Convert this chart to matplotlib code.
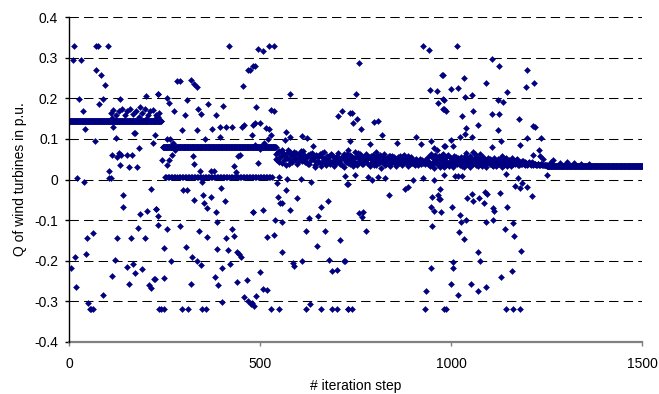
import numpy as np
import matplotlib
matplotlib.use("Agg")
import matplotlib.pyplot as plt

plt.rcParams['font.family'] = ['Liberation Sans', 'DejaVu Sans']

# ---------------- data ----------------
# near-constant stretches of iterations: (first, last, step, Q)
line_a = (0, 240, 1, 0.145)
line_b = (245, 540, 1, 0.081)
line_c = (250, 530, 4, 0.005)
line_d = (1250, 1500, 1, 0.0345)

# dense cloud, iterations 540, 544, ..., 1248 (Q in 1/1000 p.u.)
cloud_start = 540
cloud_step = 4
cloud_q = [
    62, 48, 70, 55, 41, 66, 58, 35, 72, 50, 61, 44, 68, 53, 39, 64, 57, 46, 71, 52,
    43, 60, 37, 55, 66, 48, 31, 58, 45, 63, 40, 52, 69, 36, 49, 57, 42, 61, 34, 54,
    47, 65, 39, 51, 58, 30, 44, 62, 49, 37, 56, 43, 67, 35, 52, 46, 59, 38, 50, 63,
    41, 55, 33, 48, 60, 44, 36, 57, 50, 29, 45, 62, 39, 53, 47, 34, 58, 42, 51, 37,
    56, 43, 49, 35, 61, 46, 40, 53, 38, 47, 44, 36, 50, 41, 45, 39, 48, 42, 37, 46,
    55, 33, 62, 44, 28, 51, 40, 58, 35, 47, 30, 54, 42, 60, 37, 49, 32, 45, 56, 39,
    43, 51, 34, 47, 57, 38, 45, 31, 53, 41, 48, 36, 55, 40, 46, 33, 50, 42, 37, 52,
    39, 47, 34, 54, 42, 36, 49, 44, 31, 46, 40, 52, 37, 45, 33, 48, 41, 38, 50, 35,
    43, 39, 46, 36, 41, 38, 44, 35, 40, 37, 39, 36, 38, 35, 37, 36, 35, 36,
]
# second interleaved part of the cloud, iterations 542, 546, ..., 1250
cloud2_start = 542
cloud2_q = [
    51, 67, 44, 59, 73, 47, 63, 54, 38, 69, 45, 58, 50, 65, 42, 55, 70, 48, 60, 43,
    56, 39, 64, 47, 52, 35, 61, 44, 57, 33, 66, 49, 41, 59, 53, 38, 62, 46, 55, 40,
    58, 42, 53, 36, 63, 48, 55, 41, 60, 46, 33, 52, 40, 57, 44, 62, 37, 55, 45, 51,
    52, 38, 59, 45, 35, 53, 49, 40, 61, 43, 56, 35, 50, 44, 59, 40, 48, 55, 33, 47,
    40, 52, 37, 57, 44, 50, 34, 47, 55, 41, 38, 49, 43, 36, 51, 44, 40, 47, 43, 39,
    42, 58, 36, 50, 61, 38, 54, 31, 48, 63, 41, 36, 57, 33, 52, 44, 59, 38, 47, 53,
    36, 55, 44, 30, 49, 53, 35, 58, 42, 37, 54, 46, 33, 50, 39, 56, 43, 31, 48, 44,
    50, 35, 45, 40, 33, 51, 38, 42, 55, 36, 48, 34, 47, 41, 52, 37, 44, 49, 36, 43,
    37, 45, 38, 42, 35, 40, 37, 43, 36, 39, 35, 38, 36, 37, 35, 36, 35, 35,
]

# scattered points: iteration, Q
scatter_it = [
    12, 70, 74, 100, 9, 30, 70, 83, 94, 25, 89, 79, 133, 35, 41, 66, 115, 169, 122, 224,
    220, 111, 126, 130, 136, 133, 150, 163, 157, 176, 182, 172, 185, 201, 231, 104, 105, 108, 21, 38,
    140, 141, 213, 185, 203, 227, 179, 231, 63, 47, 44, 15, 4, 124, 161, 197, 120, 150, 166, 191,
    172, 112, 155, 209, 214, 222, 18, 87, 50, 54, 58, 63, 236,
    108, 115, 122, 130, 138, 145, 152, 160, 168, 175, 183, 190, 198, 205, 212, 220, 228, 235, 112, 200,
    225, 233,
    418, 468, 482, 281, 291, 318, 327, 333, 455, 231, 255, 262, 274, 308, 304, 336, 344, 362, 384, 403,
    294, 333, 374, 394, 410, 425, 451, 458, 394, 477, 255, 264, 272, 355, 242, 255, 262, 270, 277, 325,
    326, 342, 370, 380, 436, 442, 447, 431, 347, 297, 309, 396, 327, 349, 353, 361, 370, 383, 408, 480,
    227, 233, 257, 290, 387, 340, 360, 427, 430, 409, 249, 305, 387, 416, 438, 444, 450, 266, 320, 335,
    344, 421, 399, 224, 248, 318, 381, 388, 438, 466, 399, 458, 467, 475, 483, 239, 249, 296, 310, 348,
    357,
    495, 506, 524, 536, 473, 486, 579, 489, 528, 536, 704, 713, 735, 482, 486, 499, 515, 524, 528, 567,
    578, 565, 610, 623, 639, 494, 549, 569, 606, 634, 728, 545, 547, 551, 556, 566, 578, 595, 678, 659,
    482, 508, 539, 558, 628, 650, 518, 537, 619, 670, 709, 648, 558, 586, 589, 608, 679, 687, 700, 719,
    499, 508, 518, 489, 477, 528, 550, 619, 630, 658, 689, 702, 729, 487, 500, 510, 520,
    927, 942, 758, 750, 944, 962, 966, 976, 979, 981, 739, 743, 754, 764, 798, 809, 819, 735, 788, 858,
    908, 921, 946, 956, 755, 803, 774, 730, 839, 865, 887, 963, 975, 981, 722, 729, 748, 783, 793, 809,
    826, 879, 886, 899, 927, 956, 838, 949, 964, 969, 947, 956, 950, 759, 770, 767, 778, 722, 947, 933,
    729, 739, 931, 982,
    1016, 1107, 1126, 1199, 977, 999, 1017, 1033, 1090, 1145, 1196, 1216, 982, 1036, 1053, 1123, 1136, 979, 986, 1029,
    1056, 1106, 1125, 1178, 1071, 1038, 1036, 1023, 1123, 1129, 1213, 1219, 998, 1005, 1053, 983, 1106, 1180, 1197, 1038,
    1058, 1062, 1075, 1132, 1213, 1010, 1018, 1027, 981, 1143, 1175, 970, 1167, 1184, 1180, 1199, 1210, 970, 972, 1040,
    1053, 1056, 1073, 1086, 1088, 1093, 1127, 1001, 1110, 1112, 1145, 1023, 1025, 1038, 1091, 1108, 1162, 1141, 1164, 1021,
    1034, 1069, 1182, 1075, 1004, 1004, 1158, 999, 1052, 1129, 1071, 1091, 1018, 986, 1142, 1161, 1180,
    1234, 1230, 1232, 1267, 1302, 1251, 1240, 1260, 1285, 1320, 1340, 1360,
]
scatter_q = [
    0.33, 0.33, 0.33, 0.33, 0.294, 0.294, 0.27, 0.257, 0.234, 0.198, 0.198, 0.187, 0.198, 0.169, 0.125, 0.096, 0.13, 0.114, 0.102, 0.11,
    0.09, 0.061, 0.055, 0.065, 0.06, 0.035, 0.06, 0.06, 0.03, 0.03, 0.077, 0.114, 0.18, 0.205, 0.21, 0.02, 0.003, 0.003, 0.003, -0.007,
    -0.038, -0.067, -0.024, -0.085, -0.077, -0.073, -0.12, -0.113, -0.131, -0.145, -0.183, -0.19, -0.219, -0.145, -0.145, -0.145, -0.198, -0.215, -0.208, -0.22,
    -0.231, -0.237, -0.257, -0.26, -0.267, -0.246, -0.264, -0.286, -0.305, -0.32, -0.32, -0.32, -0.32,
    0.165, 0.172, 0.16, 0.17, 0.175, 0.158, 0.168, 0.173, 0.162, 0.17, 0.155, 0.165, 0.175, 0.16, 0.168, 0.172, 0.158, 0.165, 0.152, 0.15,
    0.15, 0.155,
    0.33, 0.269, 0.28, 0.243, 0.243, 0.246, 0.236, 0.229, 0.231, 0.21, 0.202, 0.188, 0.17, 0.195, 0.159, 0.175, 0.162, 0.187, 0.16, 0.182,
    0.121, 0.122, 0.125, 0.13, 0.13, 0.13, 0.13, 0.135, 0.106, 0.11, 0.1, 0.1, 0.09, 0.1, 0.048, 0.036, 0.048, 0.06, 0.073, 0.057,
    0.039, 0.021, 0.02, 0.02, 0.018, 0.057, 0.061, 0.034, -0.007, -0.025, -0.025, -0.021, -0.05, -0.038, -0.057, -0.071, -0.044, -0.081, -0.054, -0.079,
    -0.073, -0.091, -0.122, -0.114, -0.106, -0.128, -0.142, -0.123, -0.139, -0.145, -0.169, -0.167, -0.171, -0.174, -0.18, -0.184, -0.19, -0.202, -0.19, -0.202,
    -0.21, -0.208, -0.219, -0.246, -0.242, -0.257, -0.241, -0.26, -0.254, -0.248, -0.302, -0.29, -0.299, -0.307, -0.312, -0.32, -0.32, -0.32, -0.32, -0.32,
    -0.32,
    0.322, 0.316, 0.33, 0.33, 0.27, 0.28, 0.21, 0.178, 0.172, 0.17, 0.157, 0.168, 0.164, 0.135, 0.14, 0.139, 0.127, 0.125, 0.11, 0.118,
    0.104, 0.098, 0.108, 0.102, 0.083, 0.04, 0.007, 0.002, 0.001, -0.007, -0.012, -0.009, -0.042, -0.057, -0.058, -0.025, -0.075, -0.046, -0.052, -0.069,
    -0.079, -0.075, -0.101, -0.106, -0.095, -0.091, -0.142, -0.137, -0.128, -0.126, -0.149, -0.165, -0.18, -0.205, -0.213, -0.202, -0.198, -0.225, -0.223, -0.202,
    -0.229, -0.27, -0.272, -0.287, -0.305, -0.32, -0.32, -0.32, -0.307, -0.32, -0.32, -0.32, -0.32, 0.085, 0.075, 0.09, 0.1,
    0.33, 0.32, 0.287, 0.21, 0.221, 0.219, 0.188, 0.258, 0.198, 0.173, 0.165, 0.139, 0.149, 0.125, 0.143, 0.145, 0.11, 0.096, 0.087, 0.09,
    0.104, 0.087, 0.094, 0.077, 0.065, 0.067, 0.057, 0.072, 0.057, 0.057, 0.057, 0.073, 0.061, 0.082, 0.009, -0.011, 0.01, 0.006, -0.001, 0.007,
    0.004, -0.024, -0.019, -0.002, 0.004, -0.002, -0.039, -0.042, -0.038, -0.049, -0.069, -0.077, -0.114, -0.083, -0.079, -0.093, -0.128, -0.202, -0.219, -0.275,
    -0.32, -0.32, -0.32, -0.32,
    0.33, 0.297, 0.28, 0.27, 0.258, 0.224, 0.225, 0.25, 0.238, 0.217, 0.228, 0.238, 0.197, 0.203, 0.209, 0.197, 0.192, 0.174, 0.17, 0.157,
    0.17, 0.162, 0.162, 0.149, 0.135, 0.127, 0.113, 0.104, 0.121, 0.096, 0.131, 0.129, 0.098, 0.083, 0.104, 0.083, 0.08, 0.086, 0.102, 0.066,
    0.069, 0.063, 0.063, 0.059, 0.061, 0.009, 0.009, 0.009, 0.011, 0.013, 0.003, -0.024, -0.015, -0.009, -0.021, -0.019, -0.04, -0.049, -0.079, -0.046,
    -0.035, -0.053, -0.046, -0.057, -0.03, -0.035, -0.034, -0.067, -0.071, -0.077, -0.067, -0.087, -0.106, -0.1, -0.104, -0.1, -0.108, -0.123, -0.139, -0.13,
    -0.146, -0.178, -0.176, -0.202, -0.204, -0.219, -0.225, -0.257, -0.258, -0.241, -0.274, -0.266, -0.286, -0.32, -0.32, -0.32, -0.32,
    0.102, 0.073, 0.057, 0.047, 0.044, 0.01, 0.05, 0.042, 0.041, 0.04, 0.039, 0.038,
]

y_ticks = [0.4, 0.3, 0.2, 0.1, 0.0, -0.1, -0.2, -0.3, -0.4]
y_tick_labels = ["0.4", "0.3", "0.2", "0.1", "0", "-0.1", "-0.2", "-0.3", "-0.4"]
x_ticks = [0, 500, 1000, 1500]
x_tick_labels = ["0", "500", "1000", "1500"]

# ---------------- assemble points ----------------
xs, ys = [], []
for first, last, step, q in (line_a, line_b, line_c, line_d):
    it = np.arange(first, last + 1, step)
    xs.append(it)
    ys.append(np.full(len(it), q))
for start, vals in ((cloud_start, cloud_q), (cloud2_start, cloud2_q)):
    xs.append(start + cloud_step * np.arange(len(vals)))
    ys.append(np.array(vals) / 1000.0)
xs.append(np.array(scatter_it))
ys.append(np.array(scatter_q))
x_all = np.concatenate(xs)
y_all = np.concatenate(ys)

# ---------------- figure ----------------
fig = plt.figure(figsize=(6.59, 3.94), dpi=100)
ax = fig.add_axes([69.3 / 659, 1 - 341.7 / 394, (642.3 - 69.3) / 659, (341.7 - 17.3) / 394])

for yt in y_ticks[:-1]:
    ax.axhline(yt, color='black', linewidth=0.75, linestyle=(0, (9, 5)), zorder=1)

ax.scatter(x_all, y_all, marker='D', s=9, color='#000080', edgecolors='#000080',
           linewidths=0.4, zorder=3)

ax.set_xlim(0, 1500)
ax.set_ylim(-0.4, 0.4)
ax.set_xticks(x_ticks)
ax.set_xticklabels(x_tick_labels)
ax.set_yticks(y_ticks)
ax.set_yticklabels(y_tick_labels)

for side in ('top', 'right'):
    ax.spines[side].set_visible(False)
ax.spines['left'].set_color('black')
ax.spines['left'].set_linewidth(1.0)
ax.spines['bottom'].set_color('#808080')
ax.spines['bottom'].set_linewidth(1.6)
ax.spines['left'].set_zorder(4)

ax.tick_params(axis='y', direction='out', length=3, width=1, color='black', pad=5, labelsize=10)
ax.tick_params(axis='x', direction='out', length=3, width=1, color='#808080', pad=8, labelsize=10)

ax.set_xlabel('# iteration step', fontsize=10, labelpad=6)
ax.set_ylabel('Q of wind turbines in p.u.', fontsize=10, labelpad=5)

fig.savefig('out.png', dpi=100)
